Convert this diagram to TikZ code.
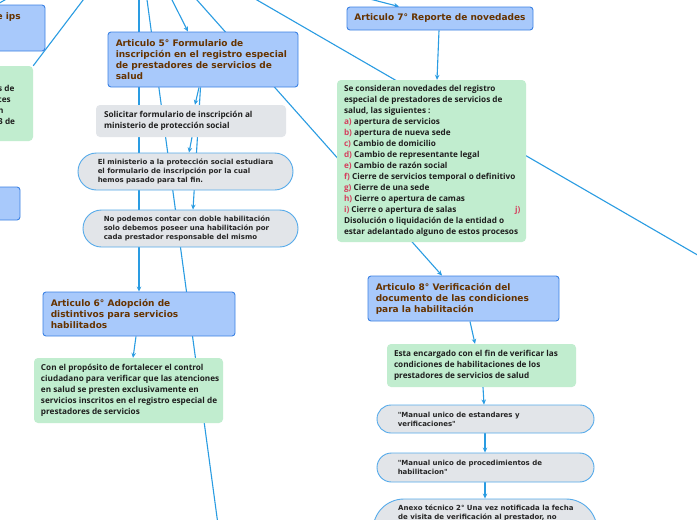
\documentclass[tikz,border=0pt]{standalone}
\usepackage{fontspec}
\usetikzlibrary{shapes.misc,arrows.meta}
\newfontfamily\djv{DejaVu Sans}
\newfontfamily\ops{Open Sans}
\definecolor{hfill}{HTML}{A8C9FB}
\definecolor{hbord}{HTML}{3C82E4}
\definecolor{htxt}{HTML}{663300}
\definecolor{gfill}{HTML}{C1EDCF}
\definecolor{sfill}{HTML}{E2E5E9}
\definecolor{pbord}{HTML}{55AAEA}
\definecolor{link}{HTML}{2A9CE2}
\definecolor{lred}{HTML}{D4405E}
\definecolor{btxt}{HTML}{1E1E1E}
\definecolor{ptxt}{HTML}{262626}
\pgfdeclarelayer{bg}
\pgfsetlayers{bg,main}
\newcommand{\rl}[1]{\textcolor{lred}{#1}}
\tikzset{
  sz/.style 2 args={minimum width=#1pt,minimum height=#2pt},
  hbox/.style={draw=hbord,fill=hfill,rounded corners=3pt,line width=0.9pt,inner sep=0pt},
  gbox/.style={fill=gfill,rounded corners=4pt,inner sep=0pt},
  sbox/.style={fill=sfill,rounded corners=4pt,inner sep=0pt},
  pill/.style={rounded rectangle,draw=pbord,fill=sfill,line width=0.9pt,inner sep=0pt},
  htext/.style={font=\djv\bfseries\fontsize{9}{11}\selectfont,text=htxt,align=left,inner sep=0pt},
  btext/.style={font=\ops\bfseries\fontsize{8.2}{11}\selectfont,text=btxt,align=left,inner sep=0pt},
  ptext/.style={font=\djv\bfseries\fontsize{7}{8.8}\selectfont,text=ptxt,align=left,inner sep=0pt},
  conn/.style={draw=link,line width=1.1pt},
  arr/.style={conn,-{Stealth[length=5pt,width=4.5pt]}},
}
\begin{document}
\begin{tikzpicture}[x=1pt,y=-1pt]
\useasboundingbox (0,0) rectangle (697,520);

% left partial boxes
\node[hbox,sz={105}{46}] (eips) at (-7.5,28) {};
\node[htext,anchor=east] (eipst) at (21,17) {e ips};
\node[gbox,sz={133}{75}] (lg) at (-33.5,103.5) {};
\node[btext,anchor=west] (lgt) at (-2,104.5) {s de\\tes\\n\\3 de};
\node[hbox,sz={120}{33}] (lb) at (-40,203.5) {};

% article 5 branch
\node[hbox,sz={190}{55}] (a5) at (203,59.5) {};
\node[htext,anchor=west] (a5t) at ([xshift=8pt]a5.west) {Articulo 5° Formulario de\\inscripción en el registro especial\\de prestadores de servicios de\\salud};
\node[sbox,sz={190}{32}] (sol) at (191,121) {};
\node[btext,anchor=west] (solt) at ([xshift=8pt]sol.west) {Solicitar formulario de inscripción al\\ministerio de protección social};
\node[pill,sz={215}{37}] (min) at (185.5,171.5) {};
\node[ptext,anchor=west] (mint) at ([xshift=20pt]min.west) {El ministerio a la protección social estudiara\\el formulario de inscripción por la cual\\hemos pasado para tal fin.};
\node[pill,sz={215}{37}] (nop) at (190.5,228.5) {};
\node[ptext,anchor=west] (nopt) at ([xshift=21pt]nop.west) {No podemos contar con doble habilitación\\solo debemos poseer una habilitación por\\cada prestador responsable del mismo};

% article 6 branch
\node[hbox,sz={192}{44}] (a6) at (139,314) {};
\node[htext,anchor=west] (a6t) at ([xshift=8pt]a6.west) {Articulo 6° Adopción de\\distintivos para servicios\\habilitados};
\node[gbox,sz={189}{65}] (con) at (128.5,390.5) {};
\node[btext,anchor=west] (cont) at ([xshift=7pt]con.west) {Con el propósito de fortalecer el control\\ciudadano para verificar que las atenciones\\en salud se presten exclusivamente en\\servicios inscritos en el registro especial de\\prestadores de servicios};

% article 7 branch
\node[hbox,sz={186}{23}] (a7) at (440,18.5) {};
\node[htext] (a7t) at (a7.center) {Articulo 7° Reporte de novedades};
\node[gbox,sz={189}{162}] (nov) at (431.5,161) {};
\node[btext,anchor=west] (novt) at ([xshift=7pt]nov.west) {Se consideran novedades del registro\\especial de prestadores de servicios de\\salud, las siguientes :\\\rl{a)} apertura de servicios\\\rl{b)} apertura de nueva sede\\\rl{c)} Cambio de domicilio\\\rl{d)} Cambio de representante legal\\\rl{e)} Cambio de razón social\\\rl{f)} Cierre de servicios temporal o definitivo\\\rl{g)} Cierre de una sede\\\rl{h)} Cierre o apertura de camas\\\makebox[171pt][l]{\rl{i)} Cierre o apertura de salas}\rl{j)}\\Disolución o liquidación de la entidad o\\estar adelantado alguno de estos procesos};

% article 8 branch
\node[hbox,sz={191}{45}] (a8) at (463.5,298.5) {};
\node[htext,anchor=west] (a8t) at ([xshift=8pt]a8.west) {Articulo 8° Verificación del\\documento de las condiciones\\para la habilitación};
\node[gbox,sz={189}{43}] (esta) at (481.5,365.5) {};
\node[btext,anchor=west] (estat) at ([xshift=7pt]esta.west) {Esta encargado con el fin de verificar las\\condiciones de habilitaciones de los\\prestadores de servicios de salud};
\node[pill,sz={217}{28}] (m1) at (485.5,419) {};
\node[ptext,anchor=west] (m1t) at ([xshift=21pt]m1.west) {"Manual unico de estandares y\\verificaciones"};
\node[pill,sz={217}{29}] (m2) at (485.5,467.5) {};
\node[ptext,anchor=west] (m2t) at ([xshift=21pt]m2.west) {"Manual unico de procedimientos de\\habilitacion"};
\node[pill,sz={224}{62}] (anx) at (485,530) {};
\node[ptext,anchor=north west] (anxt) at (398,505) {Anexo técnico 2° Una vez notificada la fecha\\de visita de verificación al prestador, no};

% free ends of connectors
\coordinate (c0a) at (-4,5);
\coordinate (c0b) at (10,-3);
\coordinate (c1) at (90.7,-10);
\coordinate (c2) at (139,-10);
\coordinate (c3a) at (145.7,-10);
\coordinate (c3b) at (219,532);
\coordinate (c4) at (167,-10);
\coordinate (c5) at (188.1,-10);
\coordinate (c6a) at (239.7,-10);
\coordinate (c6b) at (720,268);
\coordinate (c7) at (335,-10);

\begin{pgfonlayer}{bg}
\fill[white] (-20,-20) rectangle (720,540);
\draw[conn] (c0a) -- (c0b);
\draw[conn] (c1) -- (lg.north east);
\draw[arr] (c2) -- (c2 |- a6.north);
\draw[conn] (c3a) -- (c3b);
\draw[arr] (c4) -- (188,0 |- a5.north);
\draw[arr] (c5) -- (442,0 |- a8.north);
\draw[conn] (c6a) -- (c6b);
\draw[arr] (c7) -- (399,0 |- a7.north);
\draw[arr] (199,0 |- a5.south) -- (195,0 |- sol.north);
\draw[arr] (192,0 |- sol.south) -- (189,0 |- min.north);
\draw[arr] (200.5,0 |- a5.south) -- (193,0 |- nop.north);
\draw[arr] (136,0 |- a6.south) -- (133,0 |- con.north);
\draw[arr] (439,0 |- a7.south) -- (437,0 |- nov.north);
\draw[arr] (470,0 |- a8.south) -- (475,0 |- esta.north);
\draw[arr] (483,0 |- esta.south) -- (484,0 |- m1.north);
\draw[arr] (485,0 |- m1.south) -- (485,0 |- m2.north);
\draw[arr] (485,0 |- m2.south) -- (485,0 |- anx.north);
\end{pgfonlayer}
\end{tikzpicture}
\end{document}
